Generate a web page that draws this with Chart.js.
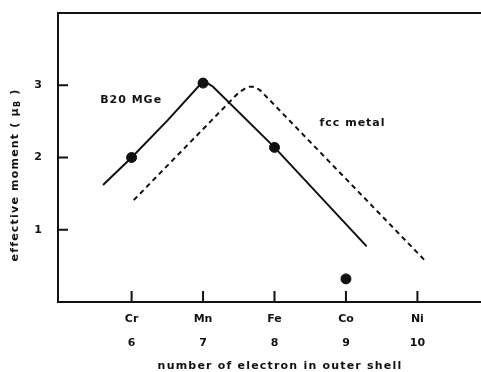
<!DOCTYPE html>
<html>
<head>
<meta charset="utf-8">
<script src="https://cdn.jsdelivr.net/npm/chart.js@4"></script>
<style>
  html, body { margin: 0; padding: 0; background: #fff; }
  #wrap { width: 481px; height: 372px; }
</style>
</head>
<body>
<div id="wrap"><canvas id="c"></canvas></div>
<script>
// ===== DATA =====
const elements   = { 6: 'Cr', 7: 'Mn', 8: 'Fe', 9: 'Co', 10: 'Ni' };
const xTickVals  = [6, 7, 8, 9, 10];
const yTickVals  = [1, 2, 3];

// B20 MGe curve (solid)
const b20X = [5.6, 6.0, 6.5, 6.95, 7.0, 7.06, 7.14, 8.0, 9.29];
const b20Y = [1.62, 2.0, 2.51, 3.0, 3.03, 3.03, 2.98, 2.14, 0.77];

// measured points (dots)
const dotX = [6, 7, 8, 9];
const dotY = [2.0, 3.03, 2.14, 0.32];

// fcc metal curve (dashed)
const fccX = [6.03, 7.5, 7.58, 7.65, 7.72, 7.8, 10.1];
const fccY = [1.41, 2.9, 2.95, 2.98, 2.98, 2.93, 0.58];

const FONT = 'DejaVu Sans';
const INK  = '#111';

const toPts = (xs, ys) => xs.map((x, i) => ({ x, y: ys[i] }));
const noPad = s => { s.paddingTop = s.paddingBottom = s.paddingLeft = s.paddingRight = 0; };

// ======== EXTRA DRAWING ========
const frameAndLabels = {
  id: 'frameAndLabels',
  afterDraw(chart) {
    const { ctx, chartArea: a, scales: { x, y } } = chart;
    ctx.save();
    ctx.strokeStyle = INK;
    ctx.lineWidth = 2;
    // top border
    ctx.beginPath();
    ctx.moveTo(a.left, a.top);
    ctx.lineTo(a.right, a.top);
    ctx.stroke();
    // inward ticks
    ctx.beginPath();
    yTickVals.forEach(v => {
      const py = y.getPixelForValue(v);
      ctx.moveTo(a.left, py);
      ctx.lineTo(a.left + 10, py);
    });
    xTickVals.forEach(v => {
      const px = x.getPixelForValue(v);
      ctx.moveTo(px, a.bottom);
      ctx.lineTo(px, a.bottom - 11);
    });
    ctx.stroke();

    ctx.fillStyle = INK;
    ctx.font = 'bold 11px ' + FONT;
    ctx.letterSpacing = '1px';
    ctx.textBaseline = 'middle';
    ctx.textAlign = 'left';
    ctx.fillText('B20 MGe', x.getPixelForValue(5.56), y.getPixelForValue(2.79));
    ctx.fillText('fcc metal', x.getPixelForValue(8.63), y.getPixelForValue(2.48));

    // x title
    ctx.letterSpacing = '1.2px';
    ctx.textAlign = 'center';
    ctx.fillText('number of electron in outer shell', 280, 366);

    // y title with subscript
    ctx.translate(15, 175);
    ctx.rotate(-Math.PI / 2);
    const main = 'effective moment ( \u03bc';
    const tail = ' )';
    ctx.font = 'bold 11px ' + FONT;
    const w1 = ctx.measureText(main).width;
    ctx.font = 'bold 8px ' + FONT;
    const wB = ctx.measureText('B').width;
    ctx.font = 'bold 11px ' + FONT;
    const w2 = ctx.measureText(tail).width;
    let sx = -(w1 + wB + w2) / 2;
    ctx.textAlign = 'left';
    ctx.fillText(main, sx, 0);
    sx += w1;
    ctx.font = 'bold 8px ' + FONT;
    ctx.fillText('B', sx, 3);
    sx += wB;
    ctx.font = 'bold 11px ' + FONT;
    ctx.fillText(tail, sx, 0);
    ctx.restore();
  }
};

// ======== CHART ========
new Chart(document.getElementById('c'), {
  type: 'scatter',
  data: {
    datasets: [
      {
        data: toPts(b20X, b20Y),
        showLine: true,
        borderColor: INK,
        borderWidth: 2,
        pointRadius: 0,
        tension: 0,
      },
      {
        data: toPts(fccX, fccY),
        showLine: true,
        borderColor: INK,
        borderWidth: 2,
        borderDash: [5, 4],
        pointRadius: 0,
        tension: 0,
      },
      {
        data: toPts(dotX, dotY),
        backgroundColor: INK,
        borderColor: INK,
        pointRadius: 5,
      },
    ],
  },
  options: {
    responsive: true, maintainAspectRatio: false,
    animation: false,
    layout: { autoPadding: false, padding: { top: 13, right: 0, left: 0, bottom: 0 } },
    plugins: { legend: { display: false }, tooltip: { enabled: false } },
    scales: {
      x: {
        type: 'linear',
        min: 4.97, max: 10.89,
        afterFit: s => { s.height = 70; noPad(s); },
        afterBuildTicks: s => { s.ticks = xTickVals.map(v => ({ value: v })); },
        border: { display: true, color: INK, width: 2 },
        grid: { display: false, drawTicks: false },
        ticks: {
          padding: 5,
          color: INK,
          maxRotation: 0,
          autoSkip: false,
          font: { family: FONT, size: 11, weight: 'bold', lineHeight: 2.2 },
          callback: v => [elements[v], String(v)],
        },
      },
      y: {
        min: 0, max: 4,
        afterFit: s => { s.width = 58; noPad(s); },
        afterBuildTicks: s => { s.ticks = yTickVals.map(v => ({ value: v })); },
        border: { display: true, color: INK, width: 2 },
        grid: { display: false, drawTicks: false },
        ticks: {
          padding: 16,
          color: INK,
          font: { family: FONT, size: 11, weight: 'bold' },
          callback: v => String(v),
        },
      },
    },
  },
  plugins: [frameAndLabels],
});
</script>
</body>
</html>
